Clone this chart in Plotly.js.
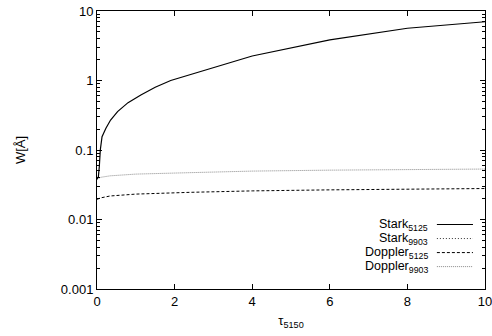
<!DOCTYPE html>
<html><head><meta charset="utf-8">
<script src="https://cdn.plot.ly/plotly-3.0.1.min.js"></script>
<style>body{margin:0;background:#fff}#c{width:492px;height:336px}</style>
</head><body><div id="c"></div>
<script>
// data
const starkX = [0, 0.035, 0.06, 0.085, 0.13, 0.23, 0.35, 0.53, 0.8, 1.13, 1.5, 1.9, 4, 6, 8, 10];
const stark5125 = [0.038, 0.041, 0.058, 0.1, 0.155, 0.205, 0.27, 0.356, 0.48, 0.62, 0.8, 1.0, 2.25, 3.85, 5.65, 7.0];
const stark9903X = [];
const stark9903 = [];
const dopX = [0, 0.1, 0.34, 1, 2.4, 4, 6, 8, 10];
const doppler5125 = [0.0195, 0.0205, 0.0218, 0.0232, 0.0246, 0.0258, 0.0267, 0.0275, 0.0279];
const doppler9903 = [0.038, 0.0405, 0.0425, 0.045, 0.0472, 0.0497, 0.0513, 0.0525, 0.0532];
const names = ['Stark<sub>5125</sub>', 'Stark<sub>9903</sub>', 'Doppler<sub>5125</sub>', 'Doppler<sub>9903</sub>'];
const xTicks = [0, 2, 4, 6, 8, 10];
const yTicks = [0.001, 0.01, 0.1, 1, 10];
const yTickText = ['0.001', '0.01', '0.1', '1', '10'];

const minorY = [];
yTicks.slice(0, -1).forEach(d => { for (let k = 2; k <= 9; k++) minorY.push(+(d * k).toPrecision(3)); });

const styles = [
  {color: '#000', dash: 'solid', width: 1.2},
  {color: '#333', dash: '1px,2px', width: 1},
  {color: '#000', dash: '3px,2px', width: 1},
  {color: '#888', dash: '1px,1px', width: 1}
];
const xs = [starkX, stark9903X, dopX, dopX];
const ys = [stark5125, stark9903, doppler5125, doppler9903];
const order = [3, 2, 1, 0];
const traces = order.map(i => ({
  x: xs[i], y: ys[i], type: 'scatter', mode: 'lines', name: names[i],
  line: {color: styles[i].color, dash: styles[i].dash, width: styles[i].width},
  showlegend: false, hoverinfo: 'skip'
}));

const font = {family: 'Liberation Sans, Arial, sans-serif', size: 13, color: '#000'};
const legFont = {family: 'Liberation Sans, Arial, sans-serif', size: 12.5, color: '#000'};
const annotations = [];
const shapes = [];
const rowY0 = 0.232, rowStep = 0.0505;
names.forEach((n, i) => {
  const y = rowY0 - i * rowStep;
  annotations.push({xref: 'paper', yref: 'paper', x: 0.859, y: y, xanchor: 'right', yanchor: 'middle',
    text: n, showarrow: false, font: legFont});
  shapes.push({type: 'line', xref: 'paper', yref: 'paper', x0: 0.876, x1: 0.969, y0: y, y1: y,
    line: {color: styles[i].color, dash: styles[i].dash, width: styles[i].width}});
});

const layout = {
  width: 492, height: 336,
  margin: {l: 97, r: 7, t: 11, b: 47},
  paper_bgcolor: '#fff', plot_bgcolor: '#fff',
  font: font,
  xaxis: {
    range: [0, 10], tickvals: xTicks, ticks: 'inside', ticklen: 5, tickcolor: '#000',
    ticklabeloverflow: 'allow',
    showline: true, linecolor: '#000', linewidth: 1, mirror: 'ticks', showgrid: false, zeroline: false,
    title: {text: 'τ<sub>5150</sub>', font: font, standoff: 8}, tickfont: font
  },
  yaxis: {
    type: 'log', range: [-3, 1], tickvals: yTicks, ticktext: yTickText, ticks: 'inside', ticklen: 5, tickcolor: '#000',
    minor: {tickmode: 'array', tickvals: minorY, ticks: 'inside', ticklen: 3, tickcolor: '#000', showgrid: false},
    showline: true, linecolor: '#000', linewidth: 1, mirror: 'ticks', showgrid: false, zeroline: false,
    title: {text: 'W[Å]', font: font, standoff: 32}, tickfont: font
  },
  annotations: annotations,
  shapes: shapes,
  showlegend: false
};
Plotly.newPlot('c', traces, layout, {displayModeBar: false, staticPlot: true});
</script></body></html>
